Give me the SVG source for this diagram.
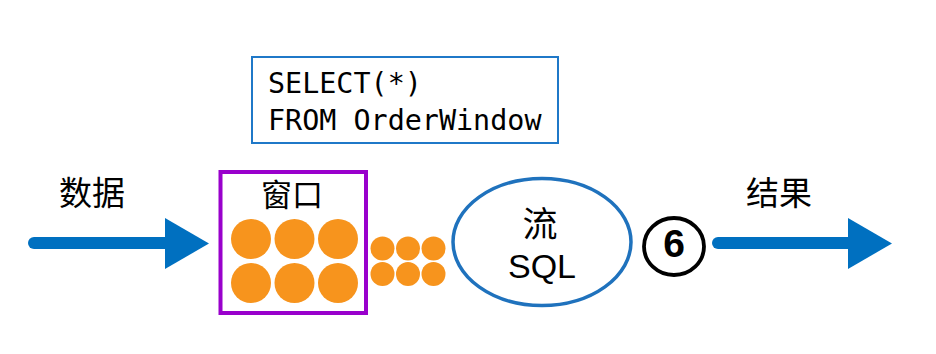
<svg xmlns="http://www.w3.org/2000/svg" width="936" height="354" viewBox="0 0 936 354">
<defs>
<style>
.cjk{font-family:"Noto Sans CJK SC","Noto Sans",sans-serif;fill:#000;text-anchor:middle}
.mono{font-family:"DejaVu Sans Mono","Liberation Mono",monospace;font-size:28.4px;fill:#000}
.big{fill:#f7941d}
.arrow{fill:#0070c0}
.shaft{stroke:#0070c0;stroke-width:12;stroke-linecap:round;fill:none}
</style>
</defs>
<rect width="936" height="354" fill="#fff"/>
<g id="query">
<rect x="252" y="57" width="306" height="86" fill="#fff" stroke="#1f78c8" stroke-width="2"/>
<text class="mono" x="268" y="93">SELECT(*)</text>
<text class="mono" x="268" y="130">FROM OrderWindow</text>
</g>
<g id="data-label"><text class="cjk" x="92" y="205" style="font-size:33px">数据</text></g>
<g id="result-label"><text class="cjk" x="779" y="205" style="font-size:33px">结果</text></g>
<g id="window">
<rect x="220.5" y="172" width="145.5" height="141" fill="#fff" stroke="#9900cc" stroke-width="4"/>
<text class="cjk" x="292" y="206" style="font-size:31px">窗口</text>
<circle class="big" cx="251" cy="239" r="20"/>
<circle class="big" cx="294.5" cy="239" r="20"/>
<circle class="big" cx="338" cy="239" r="20"/>
<circle class="big" cx="251" cy="283" r="20"/>
<circle class="big" cx="294.5" cy="283" r="20"/>
<circle class="big" cx="338" cy="283" r="20"/>
</g>
<g id="queue">
<circle class="big" cx="382.5" cy="248.5" r="12"/>
<circle class="big" cx="408" cy="248.5" r="12"/>
<circle class="big" cx="433.5" cy="248.5" r="12"/>
<circle class="big" cx="382.5" cy="274" r="12"/>
<circle class="big" cx="408" cy="274" r="12"/>
<circle class="big" cx="433.5" cy="274" r="12"/>
</g>
<g id="stream-sql">
<ellipse cx="542" cy="242" rx="89" ry="63.5" fill="#fff" stroke="#1f72bd" stroke-width="3.5"/>
<text class="cjk" x="540" y="237" style="font-size:35px">流</text>
<text x="542" y="278" font-family="Liberation Sans,Arial,sans-serif" font-size="34" text-anchor="middle" fill="#000">SQL</text>
</g>
<g id="step6">
<ellipse cx="674" cy="246.5" rx="30" ry="28.5" fill="#fff" stroke="#000" stroke-width="3.8"/>
<text x="674" y="257" font-family="Liberation Sans,Arial,sans-serif" font-size="39" font-weight="bold" text-anchor="middle" fill="#000">6</text>
</g>
<g id="connectors">
<line class="shaft" x1="34" y1="243" x2="170" y2="243"/>
<polygon class="arrow" points="165,218 209,243.5 165,269"/>
<line class="shaft" x1="718" y1="243" x2="853" y2="243"/>
<polygon class="arrow" points="848,218 892,243.5 848,269"/>
</g>
</svg>
